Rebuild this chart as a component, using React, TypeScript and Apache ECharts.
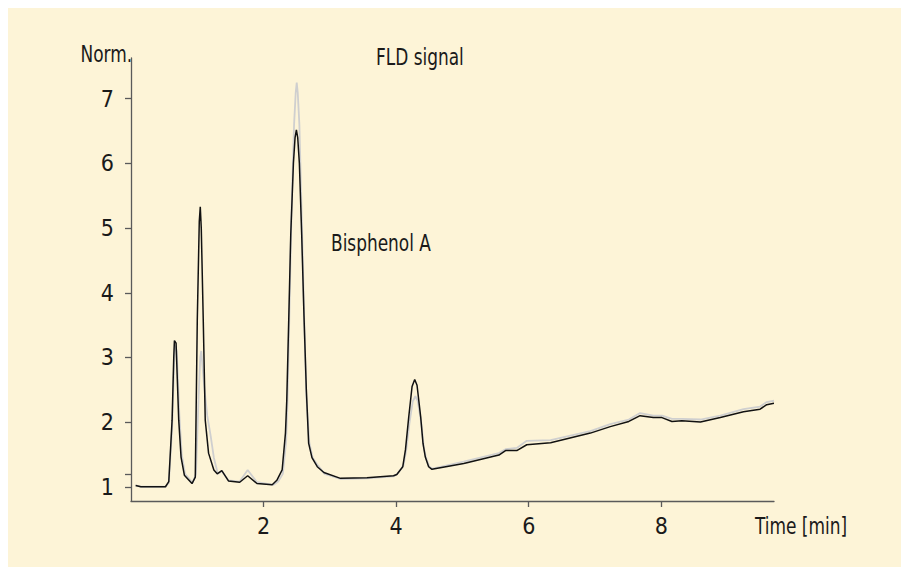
import React, { useEffect, useRef } from "react";
import * as echarts from "echarts";

// Time axis (min) and normalized FLD signal, sample trace (black)
const blackTime = [0.07, 0.15, 0.52, 0.57, 0.62, 0.645, 0.655, 0.68, 0.72, 0.755, 0.805, 0.92, 0.97, 1.0, 1.03, 1.045, 1.06, 1.09, 1.12, 1.17, 1.25, 1.3, 1.37, 1.47, 1.64, 1.76, 1.9, 2.13, 2.2, 2.28, 2.33, 2.35, 2.38, 2.41, 2.45, 2.475, 2.495, 2.515, 2.54, 2.575, 2.61, 2.645, 2.68, 2.73, 2.81, 2.91, 3.16, 3.56, 3.96, 4.01, 4.1, 4.14, 4.19, 4.24, 4.28, 4.315, 4.37, 4.405, 4.44, 4.49, 4.54, 5.02, 5.55, 5.65, 5.82, 5.97, 6.33, 6.93, 7.23, 7.51, 7.68, 7.88, 8.01, 8.16, 8.31, 8.59, 8.89, 9.24, 9.49, 9.59, 9.7];
const blackSignal = [1.02, 1.0, 1.0, 1.08, 2.03, 3.0, 3.26, 3.22, 2.03, 1.46, 1.18, 1.05, 1.15, 3.58, 5.1, 5.33, 5.0, 3.58, 2.03, 1.52, 1.26, 1.2, 1.25, 1.09, 1.07, 1.17, 1.05, 1.03, 1.1, 1.26, 1.83, 2.34, 3.6, 4.9, 6.0, 6.4, 6.52, 6.4, 6.0, 4.9, 3.63, 2.5, 1.67, 1.45, 1.31, 1.22, 1.13, 1.14, 1.17, 1.19, 1.31, 1.57, 2.08, 2.55, 2.66, 2.57, 2.08, 1.67, 1.46, 1.31, 1.27, 1.36, 1.49, 1.56, 1.56, 1.65, 1.68, 1.83, 1.93, 2.01, 2.1, 2.07, 2.07, 2.01, 2.02, 2.0, 2.07, 2.16, 2.2, 2.27, 2.29];

// Reference trace (light grey)
const greyTime = [0.07, 0.15, 0.52, 0.57, 0.62, 0.65, 0.665, 0.69, 0.73, 0.765, 0.815, 0.93, 0.98, 1.02, 1.045, 1.06, 1.1, 1.15, 1.2, 1.25, 1.31, 1.37, 1.47, 1.64, 1.76, 1.9, 2.15, 2.22, 2.29, 2.34, 2.36, 2.39, 2.42, 2.46, 2.485, 2.5, 2.515, 2.54, 2.575, 2.61, 2.645, 2.69, 2.74, 2.82, 2.92, 3.16, 3.56, 3.96, 4.02, 4.11, 4.15, 4.2, 4.25, 4.29, 4.325, 4.38, 4.415, 4.45, 4.5, 4.55, 5.02, 5.55, 5.65, 5.82, 5.97, 6.33, 6.93, 7.23, 7.51, 7.68, 7.88, 8.01, 8.16, 8.31, 8.59, 8.89, 9.24, 9.49, 9.59, 9.7];
const greySignal = [1.02, 1.0, 1.0, 1.06, 1.9, 2.9, 3.18, 3.1, 2.1, 1.5, 1.2, 1.06, 1.2, 2.4, 3.0, 3.1, 2.6, 2.1, 1.8, 1.45, 1.2, 1.24, 1.1, 1.08, 1.26, 1.07, 1.03, 1.08, 1.2, 1.7, 2.3, 3.7, 5.2, 6.6, 7.1, 7.25, 7.1, 6.6, 5.2, 3.7, 2.4, 1.68, 1.45, 1.33, 1.2, 1.12, 1.13, 1.16, 1.2, 1.33, 1.55, 1.98, 2.32, 2.4, 2.33, 1.98, 1.62, 1.45, 1.31, 1.28, 1.39, 1.52, 1.58, 1.6, 1.71, 1.72, 1.86, 1.97, 2.04, 2.14, 2.1, 2.1, 2.05, 2.05, 2.04, 2.1, 2.2, 2.24, 2.31, 2.33];

const xTicks = [2, 4, 6, 8];
const yTicks = [1, 2, 3, 4, 5, 6, 7];
const yTickMarks = [1, 1.2, 2, 3, 4, 5, 6, 7];

const FONT = "'Liberation Sans Narrow', 'DejaVu Sans Condensed', 'Roboto', sans-serif";
const TEXT = "#1a1a1a";
const AXIS = "#5a5a5a";

export default function App() {
  const ref = useRef<HTMLDivElement>(null);
  useEffect(() => {
    if (!ref.current) return;
    const chart = echarts.init(ref.current, null, { renderer: "svg" });
    const black = blackTime.map((t, i) => [t, blackSignal[i]]);
    const grey = greyTime.map((t, i) => [t, greySignal[i]]);
    const label = (text: string, x: number, y: number) => ({
      type: "text",
      x,
      y,
      scaleX: 0.82,
      style: { text, font: `23px ${FONT}`, fill: TEXT, textVerticalAlign: "top", x: 0, y: 0 },
    });
    chart.setOption({
      animation: false,
      backgroundColor: "#fdf4d7",
      grid: { left: 123, right: 135, top: 50, bottom: 66, containLabel: false },
      xAxis: {
        type: "value",
        min: 0,
        max: 9.7,
        axisLine: { show: true, lineStyle: { color: AXIS, width: 1.3 } },
        axisTick: { show: true, length: 6, customValues: xTicks, lineStyle: { color: AXIS, width: 1.3 } },
        splitLine: { show: false },
        axisLabel: {
          margin: 13,
          fontFamily: FONT,
          fontSize: 23,
          color: TEXT,
          customValues: xTicks,
        },
      },
      yAxis: {
        type: "value",
        min: 0.78,
        max: 7.63,
        axisLine: { show: true, lineStyle: { color: AXIS, width: 1.3 } },
        axisTick: { show: true, length: 6, customValues: yTickMarks, lineStyle: { color: AXIS, width: 1.3 } },
        splitLine: { show: false },
        axisLabel: {
          margin: 17,
          fontFamily: FONT,
          fontSize: 23,
          color: TEXT,
          customValues: yTicks,
        },
      },
      series: [
        {
          name: "Reference",
          type: "line",
          data: grey,
          showSymbol: false,
          smooth: false,
          lineStyle: { color: "#cfcfcf", width: 1.8 },
          z: 1,
        },
        {
          name: "Sample",
          type: "line",
          data: black,
          showSymbol: false,
          smooth: false,
          lineStyle: { color: "#111111", width: 1.5 },
          z: 2,
        },
      ],
      graphic: [
        label("Norm.", 72.5, 34),
        label("FLD signal", 368, 37),
        label("Bisphenol A", 323, 223),
        label("Time [min]", 747, 506),
      ],
    });
    return () => chart.dispose();
  }, []);
  return <div ref={ref} style={{ width: 901, height: 559 }} />;
}
